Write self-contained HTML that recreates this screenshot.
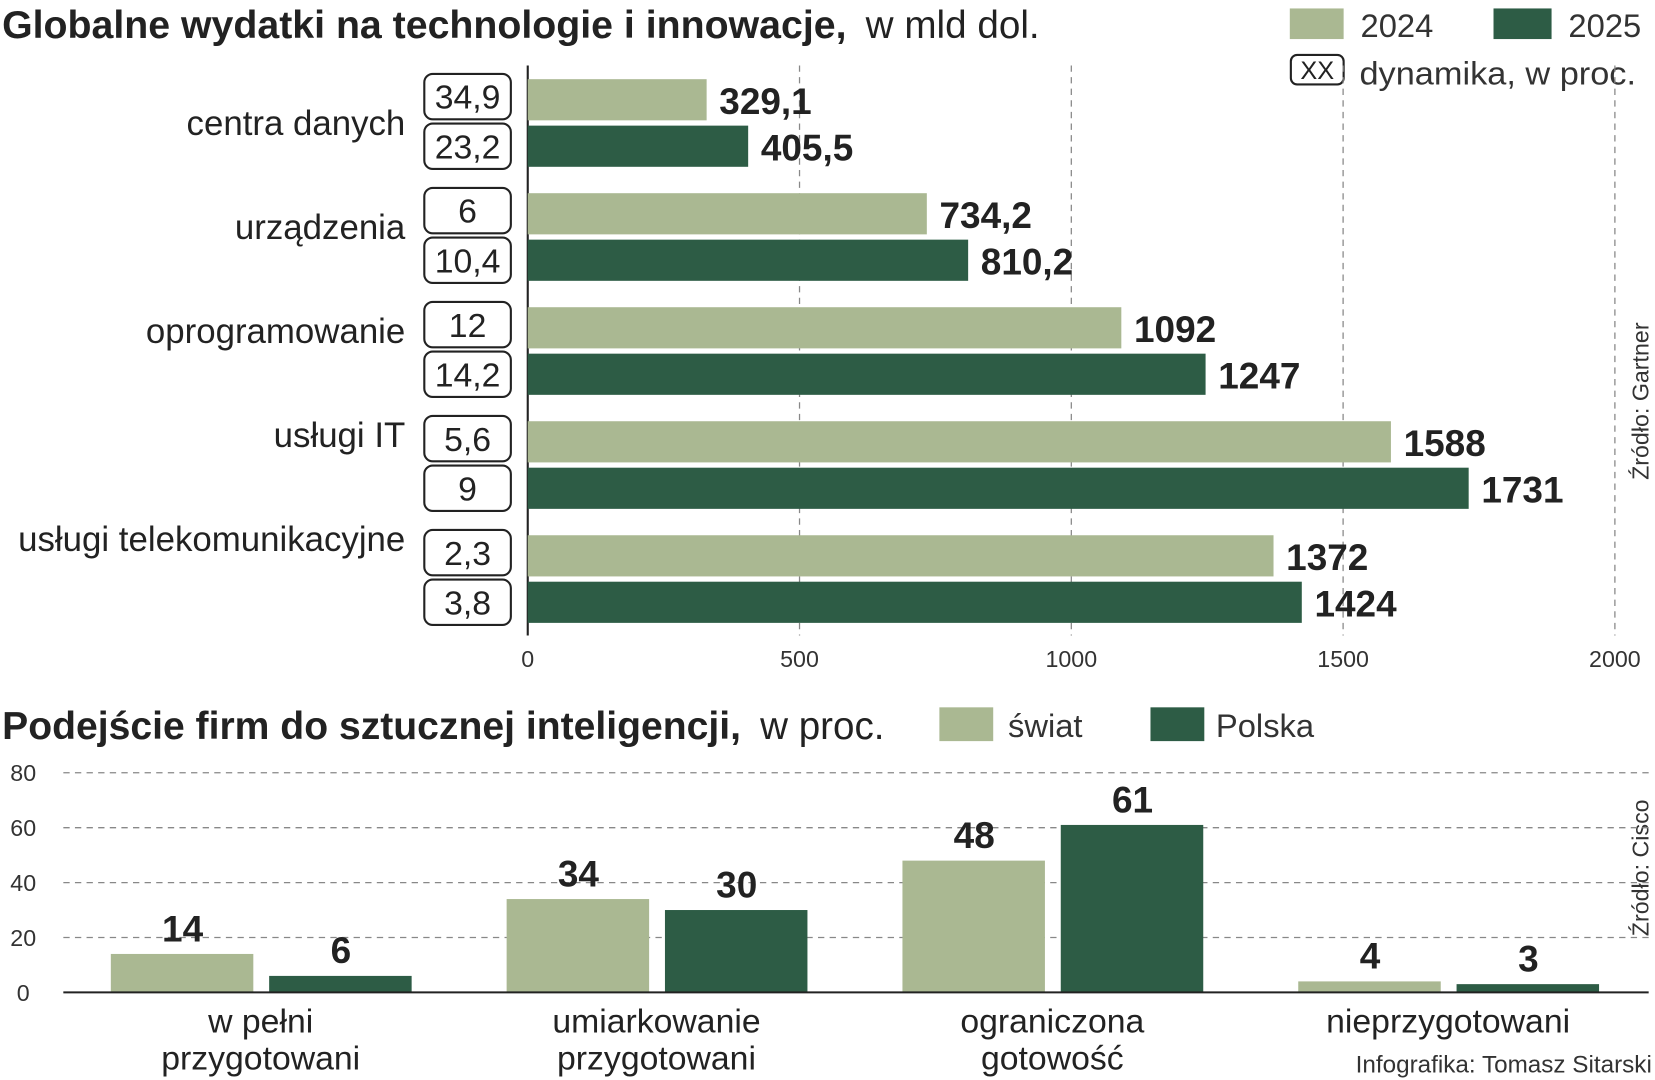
<!DOCTYPE html>
<html><head><meta charset="utf-8"><style>
html,body{margin:0;padding:0;background:#fff;}
svg{display:block;font-family:"Liberation Sans Narrow","Liberation Sans",sans-serif;}
</style></head><body>
<svg id="c" width="1655" height="1080" viewBox="0 0 1568 1023" preserveAspectRatio="none" xmlns="http://www.w3.org/2000/svg">
<g id="topchart">
<text x="2" y="36" font-size="37" fill="#222"><tspan font-weight="bold" textLength="800" lengthAdjust="spacingAndGlyphs">Globalne wydatki na technologie i innowacje,</tspan><tspan dx="8" textLength="175" lengthAdjust="spacingAndGlyphs"> w mld dol.</tspan></text>
<rect x="1222" y="8" width="51" height="29" fill="#aab892"/>
<text x="1289" y="35" font-size="31" fill="#333">2024</text>
<rect x="1415" y="8" width="55" height="29" fill="#2d5c45"/>
<text x="1486" y="35" font-size="31" fill="#333">2025</text>
<rect x="1223" y="52" width="50" height="28" rx="6" fill="#fff" stroke="#222" stroke-width="2"/>
<text x="1248" y="75" font-size="24" text-anchor="middle" fill="#222">XX</text>
<text x="1288" y="80" font-size="31" fill="#333" textLength="262" lengthAdjust="spacingAndGlyphs">dynamika, w proc.</text>
<text transform="translate(1562,380) rotate(-90)" font-size="22" fill="#333" text-anchor="middle">Źródło: Gartner</text>
</g>
<g id="botchart">
<text x="2" y="700" font-size="37" fill="#222"><tspan font-weight="bold" textLength="700" lengthAdjust="spacingAndGlyphs">Podejście firm do sztucznej inteligencji,</tspan><tspan dx="8" textLength="128" lengthAdjust="spacingAndGlyphs"> w proc.</tspan></text>
<rect x="890" y="670" width="51" height="32" fill="#aab892"/>
<text x="955" y="698" font-size="31" fill="#333">świat</text>
<rect x="1090" y="670" width="51" height="32" fill="#2d5c45"/>
<text x="1152" y="698" font-size="31" fill="#333">Polska</text>
<text transform="translate(1562,822) rotate(-90)" font-size="22" fill="#333" text-anchor="middle">Źródło: Cisco</text>
<text x="1565" y="1016" font-size="23" fill="#333" text-anchor="end">Infografika: Tomasz Sitarski</text>
</g>
</svg>
<script>
const NS="http://www.w3.org/2000/svg";
const LIGHT="#aab892", DARK="#2d5c45";
const topCategories=["centra danych","urządzenia","oprogramowanie","usługi IT","usługi telekomunikacyjne"];
const spend2024=[329.1,734.2,1092,1588,1372];
const spend2025=[405.5,810.2,1247,1731,1424];
const labels2024=["329,1","734,2","1092","1588","1372"];
const labels2025=["405,5","810,2","1247","1731","1424"];
const growth2024=["34,9","6","12","5,6","2,3"];
const growth2025=["23,2","10,4","14,2","9","3,8"];
const xTicks=[0,500,1000,1500,2000];
const botCategories=[["w pełni","przygotowani"],["umiarkowanie","przygotowani"],["ograniczona","gotowość"],["nieprzygotowani",""]];
const swiat=[14,34,48,4];
const polska=[6,30,61,3];
const yTicks=[0,20,40,60,80];

function mk(parent,tag,attrs,text){const e=document.createElementNS(NS,tag);for(const k in attrs)e.setAttribute(k,attrs[k]);if(text!==undefined)e.textContent=text;parent.appendChild(e);return e;}
const gTop=document.getElementById('topchart'), gBot=document.getElementById('botchart');
const xS=v=>500+v*0.515;
for(const t of xTicks){
  if(t>0){const l=mk(gTop,'line',{x1:xS(t),x2:xS(t),y1:62,y2:602,stroke:'#888','stroke-width':1.2,'stroke-dasharray':'6,5'});
  
  }
  const tx=mk(gTop,'text',{x:xS(t),y:632,'font-size':22,fill:'#333','text-anchor':'middle'},String(t));
  
  
}
const ax=mk(gTop,'line',{x1:500,x2:500,y1:62,y2:602,stroke:'#222','stroke-width':2});


topCategories.forEach((c,i)=>{
  const y0=75+i*108;
  const cl=mk(gTop,'text',{x:384,y:128+i*98.5,'font-size':33,fill:'#222','text-anchor':'end'},c);
  
  
  [[spend2024,labels2024,growth2024,LIGHT,0],[spend2025,labels2025,growth2025,DARK,44]].forEach(([vals,labs,gr,col,off],j)=>{
    const y=y0+off;
    const b=mk(gTop,'rect',{x:500,y:y,width:xS(vals[i])-500,height:39,fill:col});
    
    
    const v=mk(gTop,'text',{x:xS(vals[i])+12,y:y+33,'font-size':35,'font-weight':'bold',fill:'#222'},labs[i]);
    
    
    const by=y0-5+j*47;
    const bx=mk(gTop,'rect',{x:402,y:by,width:82,height:43,rx:8,fill:'#fff',stroke:'#222','stroke-width':2});
    
    
    const bt=mk(gTop,'text',{x:443,y:by+33,'font-size':32,fill:'#222','text-anchor':'middle'},gr[i]);
    
    
  });
});
const yS=v=>940-v*2.6;
for(const t of yTicks){
  if(t>0){const l=mk(gBot,'line',{x1:60,x2:1562,y1:yS(t),y2:yS(t),stroke:'#888','stroke-width':1.2,'stroke-dasharray':'6,5'});
  
  }
  const tx=mk(gBot,'text',{x:22,y:yS(t)+8,'font-size':22,fill:'#333','text-anchor':'middle'},String(t));
  
  
}
botCategories.forEach((c,i)=>{
  const gx=105+i*375;
  [[swiat,LIGHT,0],[polska,DARK,150]].forEach(([vals,col,off],j)=>{
    const x=gx+off;
    const b=mk(gBot,'rect',{x:x,y:yS(vals[i]),width:135,height:940-yS(vals[i]),fill:col});
    
    
    const v=mk(gBot,'text',{x:x+68,y:yS(vals[i])-12,'font-size':35,'font-weight':'bold',fill:'#222','text-anchor':'middle'},String(vals[i]));
    
    
  });
  c.forEach((ln,k)=>{ if(!ln)return;
    const t=mk(gBot,'text',{x:gx+142,y:978+k*35,'font-size':32,fill:'#222','text-anchor':'middle'},ln);
    
    
  });
});
const base=mk(gBot,'line',{x1:60,x2:1562,y1:940,y2:940,stroke:'#222','stroke-width':2});


</script>
</body></html>
